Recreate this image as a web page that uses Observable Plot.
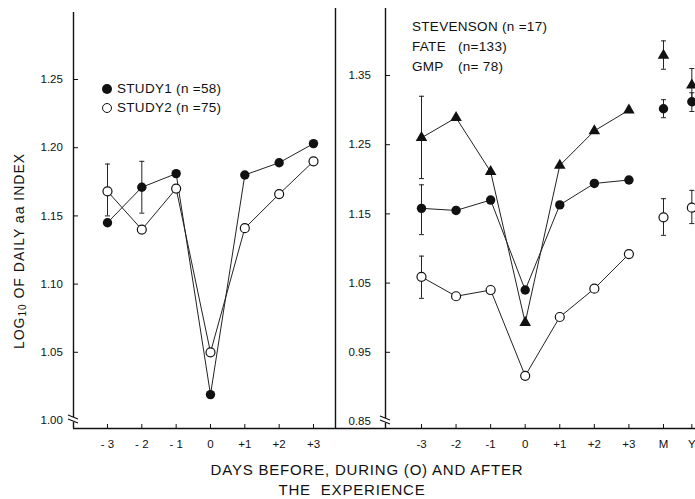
<!DOCTYPE html>
<html><head><meta charset="utf-8">
<script src="https://cdn.jsdelivr.net/npm/d3@7"></script>
<script src="https://cdn.jsdelivr.net/npm/@observablehq/plot@0.6"></script>
<style>
html,body{margin:0;padding:0;background:#fff;}
#wrap{position:relative;width:695px;height:499px;overflow:hidden;font-family:"Liberation Sans",Arial,sans-serif;color:#111;}
#left,#right{position:absolute;top:0;}
#left{left:0;}
#right{left:335px;}
.lab{position:absolute;white-space:pre;color:#111;line-height:13px;font-size:13.5px;letter-spacing:0.3px;}
.dotf,.doto{position:absolute;width:10px;height:10px;border-radius:50%;box-sizing:border-box;}
.dotf{background:#111;}
.doto{background:#fff;border:1.2px solid #111;}
.nm{display:inline-block;width:46px;}
#ylab{position:absolute;left:19px;top:251px;transform:translate(-50%,-50%) rotate(-90deg);white-space:nowrap;font-size:14px;letter-spacing:1px;line-height:14px;}
#ylab sub{font-size:10px;vertical-align:-2px;line-height:0;}
.cap{position:absolute;transform:translateX(-50%);white-space:pre;font-size:15px;letter-spacing:0.8px;line-height:15px;}
</style></head>
<body><div id="wrap">
<div id="left"></div><div id="right"></div>
</div>
<script>
// ---------------- data ----------------
const days = [-3, -2, -1, 0, 1, 2, 3];
const leftTickLabels = ["- 3", "- 2", "- 1", "0", "+1", "+2", "+3"];
const study1 = [1.145, 1.171, 1.181, 1.019, 1.180, 1.189, 1.203];
const study2 = [1.168, 1.140, 1.170, 1.050, 1.141, 1.166, 1.190];
const leftErrX = [-3, -2];
const leftErrLow = [1.150, 1.152];
const leftErrHigh = [1.188, 1.190];
const leftYTicks = [1.00, 1.05, 1.10, 1.15, 1.20, 1.25];
const leftYLabels = ["1.00", "1.05", "1.10", "1.15", "1.20", "1.25"];

const rightTicks = [-3, -2, -1, 0, 1, 2, 3, 4, 5];
const rightTickLabels = ["-3", "-2", "-1", "0", "+1", "+2", "+3", "M", "Y"];
const summaryX = [4, 5]; // M, Y
const stevenson = [1.260, 1.289, 1.211, 0.993, 1.220, 1.270, 1.300];
const stevensonMY = [1.379, 1.336];
const fate = [1.158, 1.155, 1.170, 1.040, 1.163, 1.194, 1.199];
const fateMY = [1.302, 1.312];
const gmp = [1.059, 1.031, 1.040, 0.916, 1.001, 1.042, 1.092];
const gmpMY = [1.145, 1.159];
const rightErrX = [-3, -3, -3, 4, 4, 4, 5, 5, 5];
const rightErrLow = [1.201, 1.120, 1.028, 1.359, 1.289, 1.119, 1.312, 1.298, 1.136];
const rightErrHigh = [1.320, 1.192, 1.089, 1.400, 1.315, 1.172, 1.360, 1.325, 1.184];
const rightYTicks = [0.85, 0.95, 1.05, 1.15, 1.25, 1.35];
const rightYLabels = ["0.85", "0.95", "1.05", "1.15", "1.25", "1.35"];

const leftLegend = [["STUDY1 (n =58)", "filled"], ["STUDY2 (n =75)", "open"]];
const rightLegend = [["STEVENSON", "(n =17)"], ["FATE", "(n=133)"], ["GMP", "(n= 78)"]];
const yLabel = "LOG<sub>10</sub> OF DAILY aa INDEX";
const caption = ["DAYS BEFORE, DURING (O) AND AFTER", "THE  EXPERIENCE"];

// ---------------- helpers ----------------
const ink = "#111";
const font = '"Liberation Sans", Arial, sans-serif';
const capSymbol = {draw(ctx, size) { const w = Math.sqrt(size / Math.PI); ctx.moveTo(-w, 0); ctx.lineTo(w, 0); }};
const series = (xs, ys) => xs.map((x, i) => ({x, y: ys[i]}));
const errs = (xs, lo, hi) => xs.map((x, i) => ({x, lo: lo[i], hi: hi[i]}));
const breakMark = (xv, yv) => (index, scales) => {
  const x0 = scales.x(xv), y0 = scales.y(yv);
  const g = d3.create("svg:g");
  g.append("rect").attr("x", x0 - 3).attr("y", y0 - 3).attr("width", 6).attr("height", 5).attr("fill", "white");
  g.append("path")
    .attr("d", `M${x0 - 5},${y0 - 5}L${x0 + 5},${y0 - 1}M${x0 - 5},${y0 - 1}L${x0 + 5},${y0 + 3}`)
    .attr("stroke", ink).attr("stroke-width", 1.3).attr("fill", "none");
  return g.node();
};
const svgStyle = {background: "transparent", overflow: "visible", color: ink, fontFamily: font};

// ---------------- left panel ----------------
const leftXDomain = [-3.99, 3.641];
const leftYDomain = [0.99413, 1.30205];
const leftLabelMap = new Map(days.map((d, i) => [d, leftTickLabels[i]]));
const left = Plot.plot({
  width: 336, height: 455,
  marginLeft: 73, marginRight: 1, marginTop: 8, marginBottom: 27,
  style: svgStyle,
  x: {domain: leftXDomain},
  y: {domain: leftYDomain},
  marks: [
    Plot.ruleY([leftYDomain[0]], {stroke: ink, strokeWidth: 1.6}),
    Plot.ruleX([leftXDomain[0]], {stroke: ink, strokeWidth: 1.4, insetTop: 4}),
    Plot.ruleX([leftXDomain[1]], {stroke: ink, strokeWidth: 1.4}),
    Plot.axisX(days, {tickSize: -4, tickPadding: 15, tickFormat: d => leftLabelMap.get(d), fontSize: 11.5, label: null}),
    Plot.axisY(leftYTicks.slice(1), {tickSize: -5, tickFormat: () => "", label: null}),
    Plot.text(leftYTicks, {y: d => d, text: (d, i) => leftYLabels[i], frameAnchor: "left", textAnchor: "start", dx: -33, fontSize: 11.5, fill: ink}),
    Plot.line(series(days, study1), {x: "x", y: "y", stroke: "#222", strokeWidth: 1}),
    Plot.line(series(days, study2), {x: "x", y: "y", stroke: "#222", strokeWidth: 1}),
    Plot.ruleX(errs(leftErrX, leftErrLow, leftErrHigh), {x: "x", y1: "lo", y2: "hi", stroke: "#222", strokeWidth: 1}),
    Plot.dot(errs(leftErrX, leftErrLow, leftErrHigh), {x: "x", y: "lo", symbol: capSymbol, r: 2.5, fill: "none", stroke: "#222", strokeWidth: 1}),
    Plot.dot(errs(leftErrX, leftErrLow, leftErrHigh), {x: "x", y: "hi", symbol: capSymbol, r: 2.5, fill: "none", stroke: "#222", strokeWidth: 1}),
    Plot.dot(series(days, study1), {x: "x", y: "y", r: 4.7, fill: ink, stroke: "none"}),
    Plot.dot(series(days, study2), {x: "x", y: "y", r: 4.5, fill: "white", stroke: ink, strokeWidth: 1.2}),
    breakMark(leftXDomain[0], leftYTicks[0])
  ]
});
document.getElementById("left").appendChild(left);

// ---------------- right panel ----------------
// the M and Y summary columns sit closer together than the day columns in the original
const summaryGap = 0.82;
const rightXTransform = v => v > 4 ? 4 + (v - 4) * summaryGap : v;
const rightXDomain = [-4.041, 4.926];
const rightYDomain = [0.8399, 1.4468];
const rightLabelMap = new Map(rightTicks.map((d, i) => [d, rightTickLabels[i]]));
const right = Plot.plot({
  width: 360, height: 455,
  marginLeft: 50, marginRight: 0, marginTop: 8, marginBottom: 27,
  style: svgStyle,
  x: {domain: rightXDomain, transform: rightXTransform},
  y: {domain: rightYDomain},
  marks: [
    Plot.ruleY([rightYDomain[0]], {stroke: ink, strokeWidth: 1.6, insetLeft: -50}),
    Plot.ruleX([rightXDomain[0]], {stroke: ink, strokeWidth: 1.4}),
    Plot.axisX(rightTicks, {tickSize: -4, tickPadding: 15, tickFormat: d => rightLabelMap.get(d), fontSize: 11.5, label: null}),
    Plot.axisY(rightYTicks.slice(1), {tickSize: -5, tickFormat: () => "", label: null}),
    Plot.text(rightYTicks, {y: d => d, text: (d, i) => rightYLabels[i], frameAnchor: "left", textAnchor: "start", dx: -37, fontSize: 11.5, fill: ink}),
    Plot.line(series(days, stevenson), {x: "x", y: "y", stroke: "#222", strokeWidth: 1}),
    Plot.line(series(days, fate), {x: "x", y: "y", stroke: "#222", strokeWidth: 1}),
    Plot.line(series(days, gmp), {x: "x", y: "y", stroke: "#222", strokeWidth: 1}),
    Plot.ruleX(errs(rightErrX, rightErrLow, rightErrHigh), {x: "x", y1: "lo", y2: "hi", stroke: "#222", strokeWidth: 1}),
    Plot.dot(errs(rightErrX, rightErrLow, rightErrHigh), {x: "x", y: "lo", symbol: capSymbol, r: 2.5, fill: "none", stroke: "#222", strokeWidth: 1}),
    Plot.dot(errs(rightErrX, rightErrLow, rightErrHigh), {x: "x", y: "hi", symbol: capSymbol, r: 2.5, fill: "none", stroke: "#222", strokeWidth: 1}),
    Plot.dot(series(days.concat(summaryX), stevenson.concat(stevensonMY)), {x: "x", y: "y", symbol: "triangle", r: 4.3, fill: ink, stroke: "none"}),
    Plot.dot(series(days.concat(summaryX), fate.concat(fateMY)), {x: "x", y: "y", r: 4.7, fill: ink, stroke: "none"}),
    Plot.dot(series(days.concat(summaryX), gmp.concat(gmpMY)), {x: "x", y: "y", r: 4.5, fill: "white", stroke: ink, strokeWidth: 1.2}),
    breakMark(rightXDomain[0], rightYTicks[0])
  ]
});
document.getElementById("right").appendChild(right);

// ---------------- text overlays ----------------
const wrap = document.getElementById("wrap");
function add(html, cls, styles) {
  const el = document.createElement("div");
  el.className = cls; el.innerHTML = html;
  Object.assign(el.style, styles);
  wrap.appendChild(el);
  return el;
}
leftLegend.forEach(([t, kind], i) => {
  const cy = 89 + i * 19;
  add("", kind === "filled" ? "dotf" : "doto", {left: (107 - 5) + "px", top: (cy - 5) + "px"});
  add(t, "lab", {left: "117px", top: (cy - 6.6) + "px"});
});
rightLegend.forEach(([name, n], i) => {
  const cy = 27 + i * 20;
  const nameHtml = i === 0 ? name + " " : `<span class="nm">${name}</span>`;
  add(nameHtml + n, "lab", {left: "412px", top: (cy - 6.6) + "px"});
});
add(yLabel, "", {}).id = "ylab";
add(caption[0], "cap", {left: "367px", top: "462px"});
add(caption[1], "cap", {left: "352px", top: "482px"});
</script>
</body></html>
